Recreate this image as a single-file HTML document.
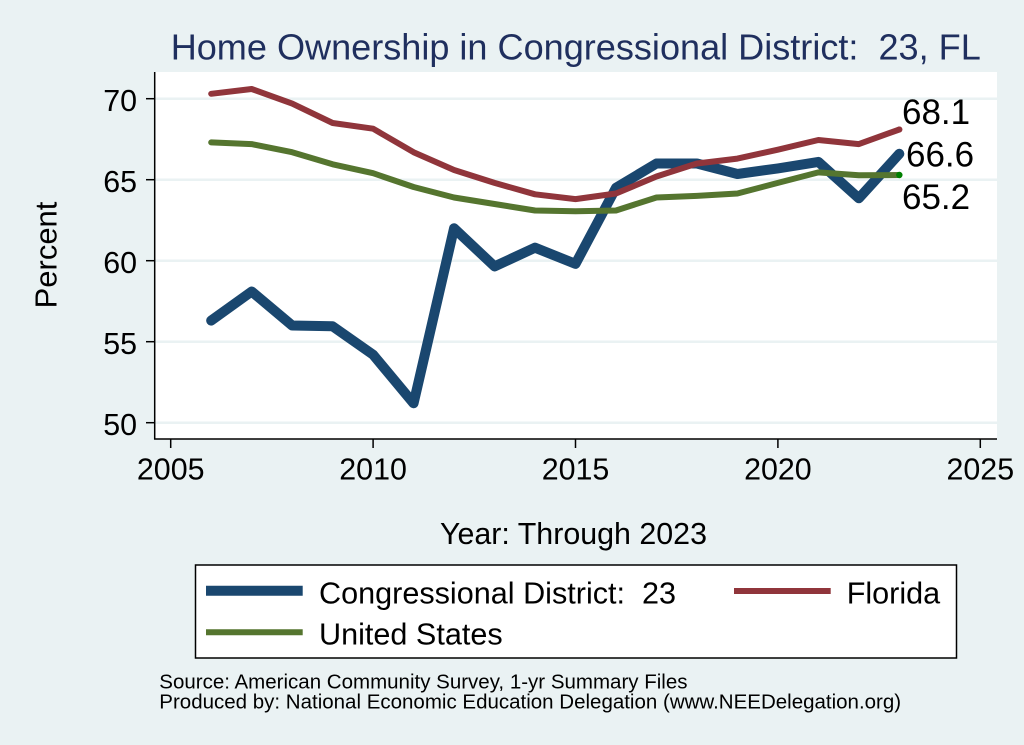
<!DOCTYPE html>
<html>
<head>
<meta charset="utf-8">
<style>
  html, body { margin: 0; padding: 0; background: #eaf2f3; }
  svg { display: block; }
  text { font-family: "Liberation Sans", Arial, sans-serif; }
</style>
</head>
<body>
<svg width="1024" height="745" viewBox="0 0 1024 745" xmlns="http://www.w3.org/2000/svg">
  <rect x="0" y="0" width="1024" height="745" fill="#eaf2f3"/>
  <!-- Title -->
  <text x="170.7" y="59.3" font-size="36.1" fill="#1f2f5e" xml:space="preserve">Home Ownership in Congressional District:  23, FL</text>

  <!-- Plot region -->
  <rect x="155" y="72" width="842" height="367" fill="#ffffff"/>
  <!-- gridlines -->
  <g stroke="#eaf2f3" stroke-width="2.5">
    <line x1="155" y1="98.7" x2="997" y2="98.7"/>
    <line x1="155" y1="179.7" x2="997" y2="179.7"/>
    <line x1="155" y1="260.7" x2="997" y2="260.7"/>
    <line x1="155" y1="341.7" x2="997" y2="341.7"/>
    <line x1="155" y1="422.7" x2="997" y2="422.7"/>
  </g>

  <!-- axes -->
  <g stroke="#000" stroke-width="1.5" fill="none">
    <line x1="154.7" y1="72" x2="154.7" y2="439.5"/>
    <line x1="154" y1="439" x2="997" y2="439"/>
    <!-- y ticks -->
    <line x1="146" y1="98.7" x2="154.7" y2="98.7"/>
    <line x1="146" y1="179.7" x2="154.7" y2="179.7"/>
    <line x1="146" y1="260.7" x2="154.7" y2="260.7"/>
    <line x1="146" y1="341.7" x2="154.7" y2="341.7"/>
    <line x1="146" y1="422.7" x2="154.7" y2="422.7"/>
    <!-- x ticks -->
    <line x1="170.7" y1="439" x2="170.7" y2="448"/>
    <line x1="373.1" y1="439" x2="373.1" y2="448"/>
    <line x1="575.5" y1="439" x2="575.5" y2="448"/>
    <line x1="777.9" y1="439" x2="777.9" y2="448"/>
    <line x1="980.3" y1="439" x2="980.3" y2="448"/>
  </g>

  <!-- y tick labels -->
  <g font-size="30.4" fill="#000" text-anchor="end">
    <text x="137" y="111">70</text>
    <text x="137" y="192">65</text>
    <text x="137" y="273">60</text>
    <text x="137" y="354">55</text>
    <text x="137" y="435">50</text>
  </g>
  <!-- x tick labels -->
  <g font-size="30.4" fill="#000" text-anchor="middle">
    <text x="170.7" y="479.5">2005</text>
    <text x="373.1" y="479.5">2010</text>
    <text x="575.5" y="479.5">2015</text>
    <text x="777.9" y="479.5">2020</text>
    <text x="980.3" y="479.5">2025</text>
  </g>

  <!-- axis titles -->
  <text transform="translate(56.5,255) rotate(-90)" font-size="31" text-anchor="middle" fill="#000">Percent</text>
  <text x="440" y="544" font-size="30.4" fill="#000">Year: Through 2023</text>

  <!-- series -->
  <g fill="none" stroke-linejoin="round" stroke-linecap="round">
    <polyline stroke="#1a476f" stroke-width="10"
      points="211.18,320.6 251.66,291.5 292.14,325.5 332.62,326.3 373.1,354.7 413.58,403.3 454.06,228.3 494.54,266.4 535.02,247.7 575.5,263.9 615.98,187.8 656.46,163.5 696.94,163.5 737.42,174.0 777.9,168.4 818.38,161.9 858.86,198.3 899.34,153.8"/>
    <polyline stroke="#90353b" stroke-width="6"
      points="211.18,93.8 251.66,89.0 292.14,103.6 332.62,123.0 373.1,128.7 413.58,152.2 454.06,170.0 494.54,182.9 535.02,194.3 575.5,199.1 615.98,193.5 656.46,176.5 696.94,163.5 737.42,158.6 777.9,149.7 818.38,140.0 858.86,144.1 899.34,129.5"/>
    <polyline stroke="#55752f" stroke-width="6"
      points="211.18,142.4 251.66,144.1 292.14,152.2 332.62,164.3 373.1,173.2 413.58,187.0 454.06,197.5 494.54,204.0 535.02,210.5 575.5,211.3 615.98,210.5 656.46,197.5 696.94,195.9 737.42,193.5 777.9,182.9 818.38,172.4 858.86,175.3 899.34,175.0"/>
  </g>
  <!-- end markers -->
  <circle cx="899.34" cy="153.8" r="3" fill="#1a476f"/>
  <circle cx="899.34" cy="129.5" r="3" fill="#90353b"/>
  <circle cx="899.34" cy="175" r="3.2" fill="#008000"/>

  <!-- value labels -->
  <g font-size="35" fill="#000">
    <text x="902" y="124">68.1</text>
    <text x="906" y="166.7">66.6</text>
    <text x="902" y="209">65.2</text>
  </g>

  <!-- legend -->
  <rect x="195.5" y="565" width="761" height="93" fill="#ffffff" stroke="#000" stroke-width="1.5"/>
  <line x1="206" y1="590.7" x2="302.7" y2="590.7" stroke="#1a476f" stroke-width="10"/>
  <line x1="734" y1="591" x2="830.7" y2="591" stroke="#90353b" stroke-width="6"/>
  <line x1="206" y1="632.3" x2="302.7" y2="632.3" stroke="#55752f" stroke-width="6"/>
  <g font-size="30.6" fill="#000">
    <text x="319" y="603.3" xml:space="preserve">Congressional District:  23</text>
    <text x="846.7" y="603.3">Florida</text>
    <text x="319" y="644.3">United States</text>
  </g>

  <!-- source notes -->
  <g font-size="20.5" fill="#000">
    <text x="159.3" y="688.3">Source: American Community Survey, 1-yr Summary Files</text>
    <text x="159.3" y="708.3">Produced by: National Economic Education Delegation (www.NEEDelegation.org)</text>
  </g>
</svg>
</body>
</html>
